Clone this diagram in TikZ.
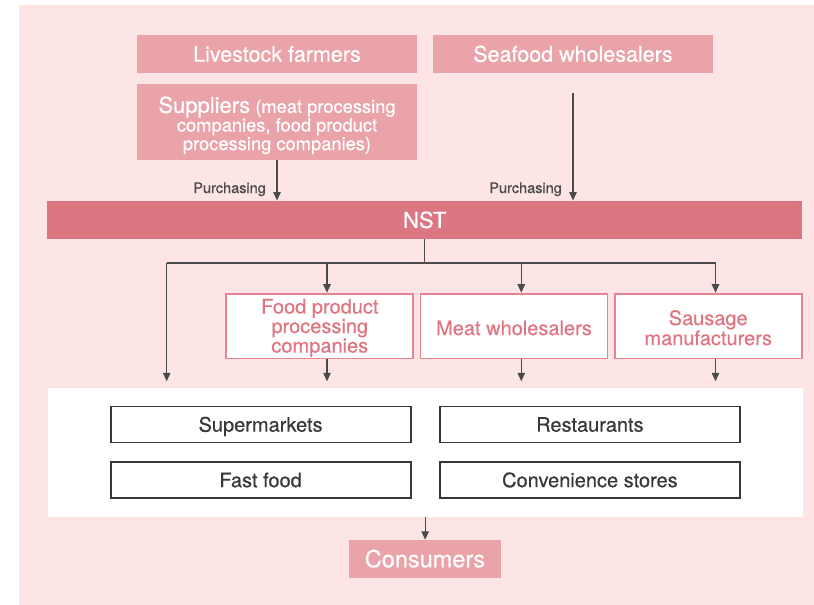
\documentclass[tikz,border=0pt]{standalone}
\usepackage{fontspec}
\setmainfont{TeX Gyre Heros}[FakeBold=0.4]
\usetikzlibrary{arrows.meta}
\definecolor{bgpink}{HTML}{FDE5E5}
\definecolor{boxpink}{HTML}{EBA3AA}
\definecolor{nstpink}{HTML}{DD7683}
\definecolor{midpink}{HTML}{E6848F}
\definecolor{midtext}{HTML}{E07582}
\definecolor{linegray}{HTML}{4A4A4A}
\definecolor{boxgray}{HTML}{383838}
\begin{document}
\begin{tikzpicture}[x=1pt,y=-1pt,
  solidbox/.style={fill=boxpink, text=white, inner sep=0pt, align=center,
    font=\fontsize{21.5}{22}\selectfont},
  onelineA/.style={text height=15.4pt, text depth=0pt},
  nstbox/.style={fill=nstpink, text=white, inner sep=0pt,
    text height=15.8pt, text depth=0pt,
    font=\fontsize{22}{22}\selectfont},
  midbox/.style={draw=midpink, line width=1.8pt, fill=white, text=midtext,
    inner sep=0pt, align=center, minimum width=187pt, minimum height=64.8pt,
    font=\fontsize{20}{18.2}\selectfont},
  shopbox/.style={draw=boxgray, line width=1.8pt, fill=white, text=boxgray,
    inner sep=0pt, minimum width=300pt, minimum height=36pt,
    text height=14.4pt, text depth=0pt,
    font=\fontsize{20}{20}\selectfont},
  conn/.style={draw=linegray, line width=1.3pt},
  arr/.style={conn, -{Triangle[length=8.5pt,width=7.5pt]}},
  lbl/.style={text=linegray, inner sep=0pt, anchor=base east,
    font=\fontsize{14.5}{15}\selectfont}]
\useasboundingbox (0,0) rectangle (814,605);
\fill[bgpink] (19,5) rectangle (814,605);

% top sources
\node[solidbox, onelineA, minimum width=280pt, minimum height=37.5pt] (live) at (277,54) {Livestock farmers};
\node[solidbox, onelineA, minimum width=280pt, minimum height=37.5pt] (sea) at (573,54) {Seafood wholesalers};
\node[solidbox, minimum width=280pt, minimum height=76pt,
  font=\fontsize{18.3}{18.6}\selectfont] (sup) at (277,122)
  {\rule{0pt}{23pt}{\fontsize{22}{18.6}\selectfont Suppliers} (meat processing\\companies, food product\\processing companies)};

% NST
\node[nstbox, minimum width=755pt, minimum height=38.5pt] (nst) at (424.75,220) {NST};

% purchasing arrows
\draw[arr] (sup.south) -- (sup.south |- nst.north);
\path (sea.south) ++(0,20.3) coordinate (seastart);
\draw[arr] (seastart) -- (seastart |- nst.north);
\node[lbl] (purchL) at (266,193) {Purchasing};
\node[lbl] (purchR) at (562,193) {Purchasing};

% intermediaries
\node[midbox] (food) at (319.8,326) {\rule{0pt}{18.5pt}Food product\\processing\\companies};
\node[midbox] (meat) at (514,326) {\rule{0pt}{18.5pt}Meat wholesalers};
\node[midbox] (saus) at (708.2,326) {\rule{0pt}{18.5pt}Sausage\\manufacturers};

% retail area
\node[fill=white, inner sep=0pt, minimum width=754.7pt, minimum height=129.2pt] (retail) at (425.15,452.1) {};
\node[shopbox] (super) at (260.6,424.5) {Supermarkets};
\node[shopbox] (rest) at (589.9,424.5) {Restaurants};
\node[shopbox] (fast) at (260.6,480) {Fast food};
\node[shopbox] (conv) at (589.9,480) {Convenience stores};

% consumers
\node[solidbox, minimum width=152pt, minimum height=37.7pt,
  text height=16.9pt, text depth=0pt,
  font=\fontsize{23.5}{24}\selectfont] (cons) at (425,558.8) {Consumers};

% distribution tree
\path (nst.south) ++(0,24) coordinate (jn);
\coordinate (jl) at (166.7,263);
\coordinate (jf) at (327,263);
\coordinate (jm) at (521.3,263);
\coordinate (js) at (715.5,263);
\draw[conn] (nst.south) -- (jn);
\draw[conn] (jl) -- (js);
\draw[arr, shorten >=6pt] (jl) -- (jl |- retail.north);
\draw[arr] (jf) -- (jf |- food.north);
\draw[arr] (jm) -- (jm |- meat.north);
\draw[arr] (js) -- (js |- saus.north);
\draw[arr, shorten >=6pt] (jf |- food.south) -- (jf |- retail.north);
\draw[arr, shorten >=6pt] (jm |- meat.south) -- (jm |- retail.north);
\draw[arr, shorten >=6pt] (js |- saus.south) -- (js |- retail.north);

% to consumers
\draw[arr] (retail.south) -- (retail.south |- cons.north);
\end{tikzpicture}
\end{document}
